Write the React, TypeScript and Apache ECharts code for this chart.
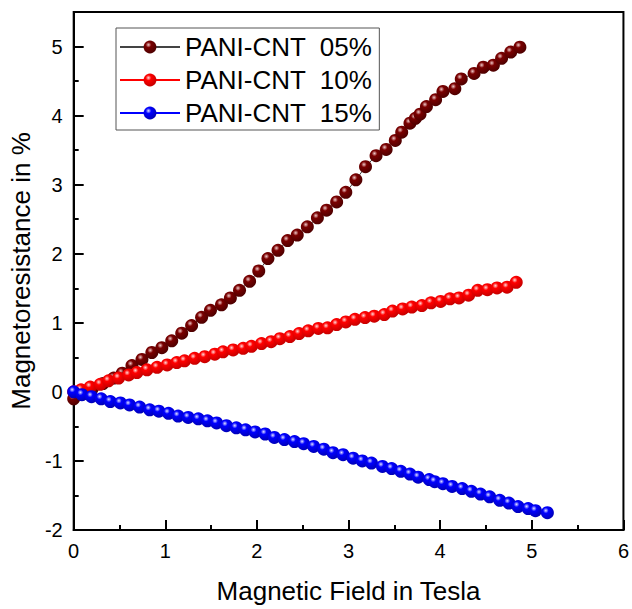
import React, { useEffect, useRef } from "react";
import * as echarts from "echarts";

const seriesNames = ["PANI-CNT \u00a005%", "PANI-CNT \u00a010%", "PANI-CNT \u00a015%"];

const x05 = [0, 0.1, 0.2, 0.32, 0.437, 0.53, 0.636, 0.745, 0.853, 0.962, 1.07, 1.179, 1.287, 1.396, 1.493, 1.613, 1.71, 1.81, 1.92, 2.02, 2.12, 2.23, 2.335, 2.44, 2.55, 2.66, 2.76, 2.87, 2.97, 3.08, 3.185, 3.3, 3.41, 3.51, 3.58, 3.67, 3.73, 3.78, 3.85, 3.95, 4.03, 4.16, 4.23, 4.37, 4.47, 4.58, 4.67, 4.77, 4.87];
const y05 = [-0.1, -0.03, 0.04, 0.12, 0.2, 0.27, 0.38, 0.47, 0.57, 0.64, 0.74, 0.85, 0.96, 1.08, 1.18, 1.26, 1.36, 1.47, 1.6, 1.75, 1.93, 2.05, 2.19, 2.27, 2.39, 2.52, 2.63, 2.75, 2.89, 3.07, 3.26, 3.42, 3.51, 3.64, 3.76, 3.89, 3.96, 4.02, 4.13, 4.23, 4.35, 4.39, 4.53, 4.61, 4.7, 4.73, 4.83, 4.92, 4.99];

const x10 = [0, 0.08, 0.18, 0.29, 0.38, 0.49, 0.6, 0.69, 0.8, 0.91, 1.02, 1.125, 1.21, 1.32, 1.43, 1.54, 1.63, 1.74, 1.85, 1.94, 2.05, 2.155, 2.25, 2.36, 2.46, 2.56, 2.67, 2.77, 2.87, 2.97, 3.07, 3.18, 3.28, 3.39, 3.48, 3.59, 3.69, 3.8, 3.9, 4.005, 4.107, 4.205, 4.31, 4.41, 4.515, 4.62, 4.73, 4.83];
const y10 = [0, 0.03, 0.07, 0.11, 0.16, 0.2, 0.245, 0.28, 0.32, 0.355, 0.39, 0.425, 0.45, 0.485, 0.51, 0.545, 0.58, 0.607, 0.63, 0.66, 0.7, 0.726, 0.77, 0.8, 0.845, 0.884, 0.918, 0.927, 0.974, 1.013, 1.05, 1.075, 1.095, 1.12, 1.17, 1.2, 1.228, 1.25, 1.29, 1.31, 1.347, 1.36, 1.4, 1.47, 1.48, 1.505, 1.515, 1.587];

const x15 = [0, 0.09, 0.195, 0.3, 0.4, 0.51, 0.61, 0.72, 0.83, 0.93, 1.035, 1.14, 1.25, 1.36, 1.46, 1.56, 1.667, 1.775, 1.876, 1.98, 2.09, 2.19, 2.3, 2.41, 2.51, 2.62, 2.73, 2.83, 2.94, 3.05, 3.15, 3.25, 3.37, 3.47, 3.57, 3.67, 3.76, 3.88, 3.94, 4.03, 4.13, 4.24, 4.34, 4.44, 4.54, 4.65, 4.75, 4.85, 4.96, 5.04, 5.17];
const y15 = [0, -0.04, -0.07, -0.1, -0.14, -0.16, -0.19, -0.22, -0.26, -0.28, -0.31, -0.35, -0.37, -0.39, -0.42, -0.45, -0.49, -0.52, -0.55, -0.58, -0.61, -0.66, -0.69, -0.72, -0.75, -0.79, -0.83, -0.88, -0.91, -0.96, -1.0, -1.03, -1.08, -1.11, -1.15, -1.19, -1.235, -1.27, -1.3, -1.33, -1.37, -1.4, -1.44, -1.48, -1.52, -1.57, -1.61, -1.66, -1.69, -1.72, -1.75];

const FONT = 'Arial, "Liberation Sans", sans-serif';

function ball(base: string, light: string, dark: string) {
  return {
    type: "radial",
    x: 0.38,
    y: 0.33,
    r: 0.72,
    colorStops: [
      { offset: 0, color: light },
      { offset: 0.3, color: base },
      { offset: 1, color: dark },
    ],
  };
}

function zip(xs: number[], ys: number[]) {
  return xs.map((x, i) => [x, ys[i]]);
}

export default function App() {
  const ref = useRef<HTMLDivElement>(null);
  useEffect(() => {
    if (!ref.current) return;
    const chart = echarts.init(ref.current, null, { renderer: "svg" });
    const mk = (name: string, xs: number[], ys: number[], line: string, fill: any) => ({
      name,
      type: "line",
      data: zip(xs, ys),
      symbol: "circle",
      symbolSize: 13,
      showSymbol: true,
      lineStyle: { color: line, width: 1 },
      itemStyle: { color: fill },
      emphasis: { disabled: true },
    });
    chart.setOption({
      animation: false,
      textStyle: { fontFamily: FONT },
      grid: {
        left: 73,
        right: 6,
        top: 12,
        bottom: 74,
        show: true,
        borderColor: "#000",
        borderWidth: 2,
        backgroundColor: "transparent",
      },
      legend: {
        left: 116,
        top: 28,
        orient: "vertical",
        itemWidth: 60,
        itemHeight: 16,
        itemGap: 7,
        itemTextGap: 8,
        padding: [6, 7, 4, 3],
        borderColor: "#555",
        borderWidth: 1,
        textStyle: { fontSize: 26, color: "#000", fontFamily: FONT },
        data: seriesNames,
      },
      xAxis: {
        type: "value",
        min: 0,
        max: 6,
        interval: 1,
        name: "Magnetic Field in Tesla",
        nameLocation: "middle",
        nameGap: 48,
        nameTextStyle: { fontSize: 26, color: "#000", fontFamily: FONT },
        axisLine: { show: true, onZero: false, lineStyle: { color: "#000", width: 2 } },
        axisTick: { show: true, inside: true, length: 10, lineStyle: { color: "#000", width: 2 } },
        minorTick: { show: true, splitNumber: 2, length: 5, lineStyle: { color: "#000", width: 2 } },
        axisLabel: { fontSize: 20, color: "#000", margin: 11, fontFamily: FONT },
        splitLine: { show: false },
      },
      yAxis: {
        type: "value",
        min: -2,
        max: 5.5,
        interval: 1,
        name: "Magnetoresistance in %",
        nameLocation: "middle",
        nameGap: 38,
        nameTextStyle: { fontSize: 26, color: "#000", fontFamily: FONT },
        axisLine: { show: true, onZero: false, lineStyle: { color: "#000", width: 2 } },
        axisTick: { show: true, inside: true, length: 10, lineStyle: { color: "#000", width: 2 } },
        minorTick: { show: true, splitNumber: 2, length: 5, lineStyle: { color: "#000", width: 2 } },
        axisLabel: {
          fontSize: 20,
          color: "#000",
          margin: 11,
          fontFamily: FONT,
          formatter: (v: number) => (Number.isInteger(v) ? String(v) : ""),
        },
        splitLine: { show: false },
      },
      series: [
        mk(seriesNames[0], x05, y05, "#444444", ball("#7a0000", "#f0c8c8", "#4a0000")),
        mk(seriesNames[1], x10, y10, "#ff0000", ball("#ff0000", "#ffd8d8", "#c00000")),
        mk(seriesNames[2], x15, y15, "#0000ff", ball("#0000ff", "#e0e0ff", "#0000b0")),
      ],
    });
    return () => chart.dispose();
  }, []);
  return (
    <div
      ref={ref}
      style={{ position: "absolute", left: 0, top: 0, width: 632, height: 609, background: "#fff" }}
    />
  );
}
